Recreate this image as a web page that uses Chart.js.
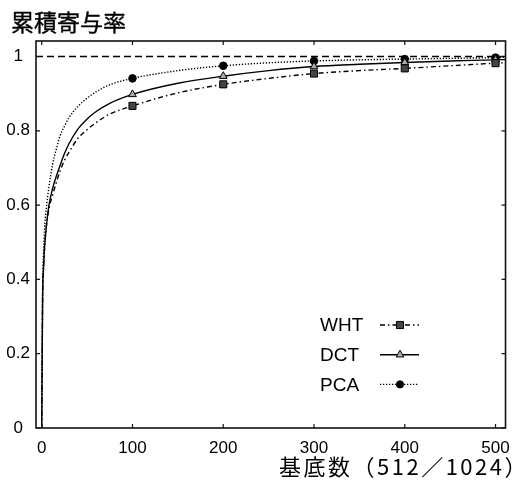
<!DOCTYPE html>
<html><head><meta charset="utf-8">
<script src="https://cdn.jsdelivr.net/npm/chart.js@4.4.1/dist/chart.umd.min.js"></script>
<style>html,body{margin:0;padding:0;background:#fff}#wrap{width:520px;height:481px;position:relative}</style>
</head><body><div id="wrap"><canvas id="c" width="520" height="481"></canvas></div>
<script>
// ---- data ----
const basisCounts = [0,1,2,3,5,8,12,16,20,25,30,40,50,60,75,100,150,200,250,300,350,400,450,500,512];
const whtValues = [0,0.35,0.43,0.48,0.54,0.59,0.627,0.66,0.69,0.72,0.742,0.78,0.803,0.822,0.845,0.867,0.902,0.925,0.941,0.954,0.962,0.968,0.975,0.982,0.983];
const dctValues = [0,0.35,0.43,0.48,0.54,0.60,0.645,0.677,0.705,0.738,0.765,0.805,0.832,0.852,0.874,0.898,0.928,0.947,0.962,0.973,0.979,0.984,0.988,0.991,0.992];
const pcaValues = [0,0.38,0.47,0.53,0.59,0.65,0.71,0.75,0.785,0.812,0.835,0.866,0.888,0.905,0.924,0.941,0.962,0.975,0.983,0.988,0.991,0.993,0.995,0.997,0.998];
const markerCounts = [100,200,300,400,500];
const xTickValues = [0,100,200,300,400,500];
const yTickValues = [0,0.2,0.4,0.6,0.8,1];
const referenceLevel = 1;
const seriesNames = ['WHT','DCT','PCA'];
const titleText = '累積寄与率';
const xTitleText = '基底数（512／1024）';

const latin = '"Liberation Sans", Arial, sans-serif';
const cjk = '"Noto Sans CJK JP", sans-serif';

function toPoints(vals){ return basisCounts.map((x,i)=>({x:x,y:vals[i]})); }
function markerRadius(r){ return ctx => (ctx.raw && markerCounts.includes(ctx.raw.x)) ? r : 0; }

const datasets = [
  {label:seriesNames[0], data:toPoints(whtValues), borderColor:'#000', borderWidth:1.4, borderDash:[5,3,1.5,3],
   pointStyle:'rect', pointRadius:markerRadius(5), pointBackgroundColor:'#444', pointBorderColor:'#000', pointBorderWidth:1, legendRadius:5},
  {label:seriesNames[1], data:toPoints(dctValues), borderColor:'#000', borderWidth:1.4, borderDash:[],
   pointStyle:'triangle', pointRadius:markerRadius(4.5), pointBackgroundColor:'#aaa', pointBorderColor:'#000', pointBorderWidth:1, legendRadius:4.5},
  {label:seriesNames[2], data:toPoints(pcaValues), borderColor:'#000', borderWidth:1.4, borderDash:[1.3,1.7],
   pointStyle:'circle', pointRadius:markerRadius(3.8), pointBackgroundColor:'#000', pointBorderColor:'#000', pointBorderWidth:1, legendRadius:3.6}
];

const framePlugin = {
  id:'frame',
  afterDatasetsDraw(chart){
    const {ctx, chartArea:a, scales:{x, y}} = chart;
    ctx.save();
    const ry = y.getPixelForValue(referenceLevel);
    ctx.strokeStyle = '#000'; ctx.lineWidth = 1.3; ctx.setLineDash([7,4]);
    ctx.beginPath(); ctx.moveTo(a.left, ry); ctx.lineTo(a.right, ry); ctx.stroke();
    ctx.setLineDash([]);
    ctx.lineWidth = 1.6; ctx.strokeStyle = '#111';
    ctx.strokeRect(a.left, a.top, a.right - a.left, a.bottom - a.top);
    ctx.lineWidth = 1.2;
    ctx.beginPath();
    x.ticks.forEach(t => {
      const px = x.getPixelForValue(t.value);
      ctx.moveTo(px, a.bottom); ctx.lineTo(px, a.bottom - 4);
      ctx.moveTo(px, a.top); ctx.lineTo(px, a.top + 4);
    });
    y.ticks.forEach(t => {
      const py = y.getPixelForValue(t.value);
      ctx.moveTo(a.left, py); ctx.lineTo(a.left + 4, py);
      ctx.moveTo(a.right, py); ctx.lineTo(a.right - 4, py);
    });
    ctx.stroke();
    ctx.restore();
  },
  afterDraw(chart){
    const ctx = chart.ctx;
    ctx.save();
    ctx.fillStyle = '#000';
    ctx.font = '23px ' + cjk;
    ctx.textAlign = 'left'; ctx.textBaseline = 'middle';
    ctx.fillText(titleText, 11, 22);
    ctx.strokeStyle = '#000'; ctx.lineWidth = 0.4;
    ctx.strokeText(titleText, 11, 22);
    ctx.font = '22px ' + cjk;
    ctx.letterSpacing = '2.5px';
    ctx.fillText(xTitleText, 279, 467);
    ctx.letterSpacing = '0px';
    ctx.font = '19px ' + latin;
    chart.data.datasets.forEach((ds, i) => {
      const yy = 325 + i * 29.7;
      ctx.fillStyle = '#000';
      ctx.textAlign = 'left'; ctx.textBaseline = 'middle';
      ctx.fillText(ds.label, 320, yy + 1);
      ctx.strokeStyle = ds.borderColor; ctx.lineWidth = ds.borderWidth;
      ctx.setLineDash(ds.borderDash);
      ctx.beginPath(); ctx.moveTo(380, yy); ctx.lineTo(419, yy); ctx.stroke();
      ctx.setLineDash([]);
      ctx.fillStyle = ds.pointBackgroundColor; ctx.strokeStyle = ds.pointBorderColor; ctx.lineWidth = ds.pointBorderWidth;
      Chart.helpers.drawPoint(ctx, {pointStyle: ds.pointStyle, radius: ds.legendRadius, rotation: 0, borderWidth: 1}, 400, yy);
    });
    ctx.restore();
  }
};

new Chart(document.getElementById('c'), {
  type:'line',
  data:{datasets:datasets},
  options:{
    responsive:false, animation:false, devicePixelRatio:1,
    layout:{padding:{top:41, right:13, left:0, bottom:0}},
    elements:{line:{cubicInterpolationMode:'monotone', fill:false}},
    plugins:{legend:{display:false}, title:{display:false}, tooltip:{enabled:false}},
    scales:{
      x:{type:'linear', min:-6.3, max:511,
         afterFit:s=>{s.height = 53;},
         afterBuildTicks:s=>{s.ticks = xTickValues.map(v=>({value:v}));},
         grid:{display:false, drawTicks:false}, border:{display:false},
         ticks:{color:'#000', font:{family:latin, size:17}, padding:10, maxRotation:0, autoSkip:false, callback:v=>String(v)}},
      y:{type:'linear', min:0, max:1.0417,
         afterFit:s=>{s.width = 36;},
         afterBuildTicks:s=>{s.ticks = yTickValues.map(v=>({value:v}));},
         grid:{display:false, drawTicks:false}, border:{display:false},
         ticks:{color:'#000', font:{family:latin, size:17}, padding:6, crossAlign:'center', autoSkip:false, callback:v=>String(v)}}
    }
  },
  plugins:[framePlugin]
});
</script></body></html>
